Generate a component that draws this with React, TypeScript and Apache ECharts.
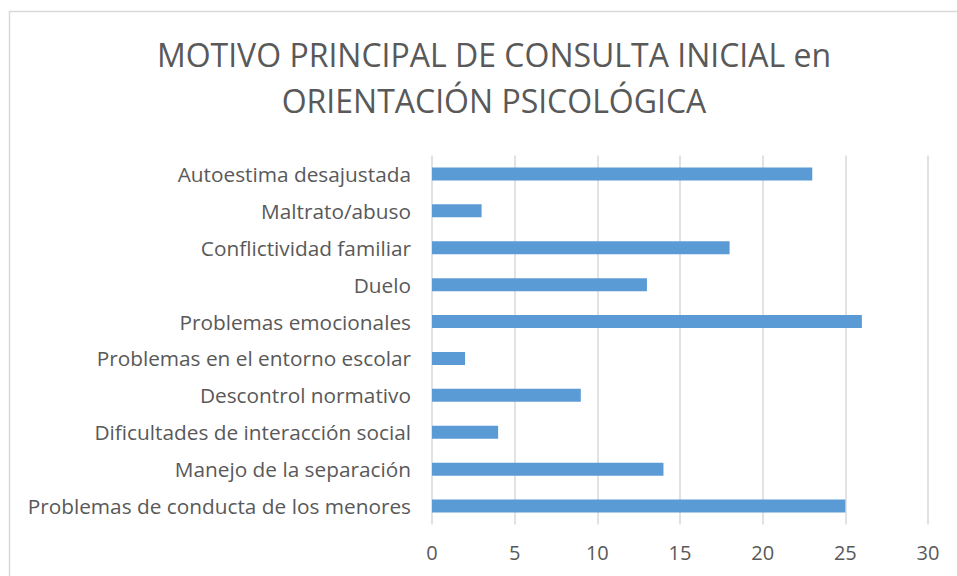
import React, { useEffect, useRef } from "react";
import * as echarts from "echarts";

const categories = [
  "Problemas de conducta de los menores",
  "Manejo de la separación",
  "Dificultades de interacción social",
  "Descontrol normativo",
  "Problemas en el entorno escolar",
  "Problemas emocionales",
  "Duelo",
  "Conflictividad familiar",
  "Maltrato/abuso",
  "Autoestima desajustada",
];
const values = [25, 14, 4, 9, 2, 26, 13, 18, 3, 23];
const titleText = "MOTIVO PRINCIPAL DE CONSULTA INICIAL en\nORIENTACIÓN PSICOLÓGICA";

export default function App() {
  const ref = useRef<HTMLDivElement>(null);
  useEffect(() => {
    if (!ref.current) return;
    const chart = echarts.init(ref.current, null, { renderer: "svg" });
    chart.setOption({
      animation: false,
      backgroundColor: "#ffffff",
      title: {
        text: titleText,
        left: 489,
        top: 26,
        textAlign: "center",
        textStyle: {
          fontFamily: "Open Sans",
          fontWeight: 400,
          fontSize: 32,
          lineHeight: 46,
          color: "#595959",
        },
      },
      graphic: [
        {
          type: "rect",
          shape: { x: 9.5, y: 11.5, width: 1200, height: 1200 },
          style: { fill: "none", stroke: "#d9d9d9", lineWidth: 1.5 },
          silent: true,
        },
      ],
      grid: { left: 432, right: 957 - 928, top: 155.5, bottom: 576 - 524.5, containLabel: false },
      xAxis: {
        type: "value",
        min: 0,
        max: 30,
        interval: 5,
        axisLine: { show: false },
        axisTick: { show: false },
        splitLine: { show: true, lineStyle: { color: "#d9d9d9", width: 1.5 } },
        axisLabel: { fontFamily: "Open Sans", fontSize: 20, color: "#595959", margin: 18 },
      },
      yAxis: {
        type: "category",
        data: categories,
        axisLine: { show: false },
        axisTick: { show: false },
        axisLabel: { fontFamily: "Open Sans", fontSize: 20.8, color: "#595959", margin: 21 },
      },
      series: [
        {
          type: "bar",
          data: values,
          barWidth: 13,
          itemStyle: { color: "#5b9bd5" },
        },
      ],
    });
    return () => chart.dispose();
  }, []);
  return <div ref={ref} style={{ position: "fixed", left: 0, top: 0, width: 957, height: 576 }} />;
}
